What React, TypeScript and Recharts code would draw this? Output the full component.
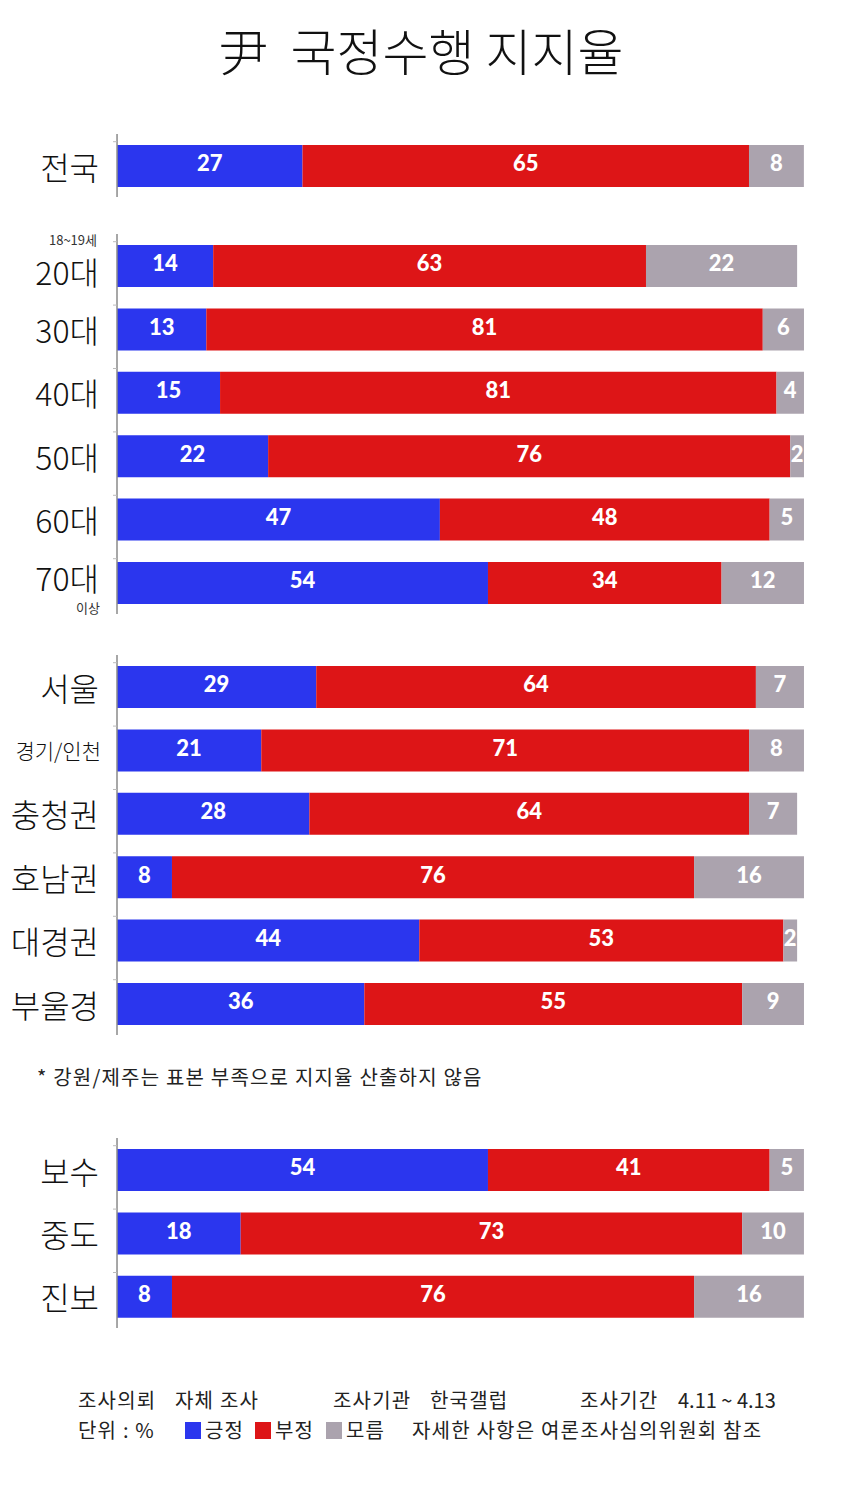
import React from "react";
import { BarChart, Bar, XAxis, YAxis, LabelList } from "recharts";

const BLUE = "#2b36ee";
const RED = "#dd1517";
const GRAY = "#aba3ae";
const KR = "'Noto Sans CJK KR', 'Noto Sans', sans-serif";

const seriesNames = ["긍정", "부정", "모름"];

const nationLabels = ["전국"];
const nationPos = [27];
const nationNeg = [65];
const nationDk = [8];

const ageLabels = ["20대", "30대", "40대", "50대", "60대", "70대"];
const agePos = [14, 13, 15, 22, 47, 54];
const ageNeg = [63, 81, 81, 76, 48, 34];
const ageDk = [22, 6, 4, 2, 5, 12];

const regionLabels = ["서울", "경기/인천", "충청권", "호남권", "대경권", "부울경"];
const regionPos = [29, 21, 28, 8, 44, 36];
const regionNeg = [64, 71, 64, 76, 53, 55];
const regionDk = [7, 8, 7, 16, 2, 9];

const ideoLabels = ["보수", "중도", "진보"];
const ideoPos = [54, 18, 8];
const ideoNeg = [41, 73, 76];
const ideoDk = [5, 10, 16];

const shiftY: Record<string, number> = { "20대": 5, "70대": -6 };
const smallLabels = ["경기/인천"];

const ROW = 63.4;
const AGE_TOP = 233.5;

const build = (labels: string[], pos: number[], neg: number[], dk: number[]) =>
  labels.map((name, i) => ({ name, pos: pos[i], neg: neg[i], dk: dk[i] }));

function CatTick(props: any) {
  const { y, payload } = props;
  const name = payload.value as string;
  const small = smallLabels.includes(name);
  return (
    <g>
      <line x1={113} x2={117} y1={y - 24} y2={y - 24} stroke="#bbb" strokeWidth={1} />
      <text
        x={small ? 101 : 99}
        y={y + (shiftY[name] || 0)}
        textAnchor="end"
        dominantBaseline="central"
        fontFamily={KR}
        fontWeight={300}
        fontSize={small ? 21 : 32}
        fill="#111"
      >
        {name}
      </text>
    </g>
  );
}

function ValueLabel(props: any) {
  const { x, y, width, height, value } = props;
  return (
    <text
      x={x + width / 2}
      y={y + height / 2 - 3}
      textAnchor="middle"
      dominantBaseline="central"
      fill="#fff"
      fontFamily="Lato, 'Open Sans', sans-serif"
      fontWeight={900}
      fontSize={22}
    >
      {value}
    </text>
  );
}

function Group({ data, top }: { data: any[]; top: number }) {
  return (
    <div style={{ position: "absolute", left: 0, top, width: 850 }}>
      <BarChart
        layout="vertical"
        width={850}
        height={data.length * ROW}
        data={data}
        margin={{ top: 0, right: 46, bottom: 0, left: 0 }}
        style={{ overflow: "visible" }}
      >
        <XAxis type="number" domain={[0, 100]} allowDataOverflow hide />
        <YAxis
          type="category"
          dataKey="name"
          width={117}
          axisLine={{ stroke: "#8a8a8a", strokeWidth: 1.5 }}
          tickLine={false}
          tick={<CatTick />}
          interval={0}
        />
        <Bar dataKey="pos" stackId="a" fill={BLUE} barSize={42} isAnimationActive={false}>
          <LabelList dataKey="pos" content={<ValueLabel />} />
        </Bar>
        <Bar dataKey="neg" stackId="a" fill={RED} barSize={42} isAnimationActive={false}>
          <LabelList dataKey="neg" content={<ValueLabel />} />
        </Bar>
        <Bar dataKey="dk" stackId="a" fill={GRAY} barSize={42} isAnimationActive={false}>
          <LabelList dataKey="dk" content={<ValueLabel />} />
        </Bar>
      </BarChart>
    </div>
  );
}

const txt: React.CSSProperties = {
  position: "absolute",
  fontFamily: KR,
  fontSize: 20,
  letterSpacing: 1.2,
  color: "#222",
  whiteSpace: "pre",
  lineHeight: 1,
};

const sub: React.CSSProperties = {
  position: "absolute",
  fontFamily: KR,
  fontSize: 13,
  color: "#333",
  lineHeight: 1,
  whiteSpace: "pre",
  textAlign: "right",
};

export default function App() {
  const colors = [BLUE, RED, GRAY];
  const legendX = [185, 255, 326];
  return (
    <div style={{ position: "absolute", left: 0, top: 0, width: 850, height: 1503, background: "#fff" }}>
      <div
        style={{
          ...txt,
          top: 24,
          left: 0,
          width: 842,
          textAlign: "center",
          fontSize: 50,
          letterSpacing: 0,
          fontWeight: 300,
          color: "#111",
        }}
      >
        {"尹  국정수행 지지율"}
      </div>
      <Group data={build(nationLabels, nationPos, nationNeg, nationDk)} top={133.5} />
      <Group data={build(ageLabels, agePos, ageNeg, ageDk)} top={AGE_TOP} />
      <Group data={build(regionLabels, regionPos, regionNeg, regionDk)} top={654.5} />
      <Group data={build(ideoLabels, ideoPos, ideoNeg, ideoDk)} top={1137.5} />

      <div style={{ ...sub, top: AGE_TOP - 1, left: 0, width: 97 }}>18~19세</div>
      <div style={{ ...sub, top: AGE_TOP + ageLabels.length * ROW - 13, left: 0, width: 100 }}>이상</div>

      <div style={{ ...txt, top: 1067, left: 37 }}>* 강원/제주는 표본 부족으로 지지율 산출하지 않음</div>

      <div style={{ ...txt, top: 1390, left: 78 }}>조사의뢰</div>
      <div style={{ ...txt, top: 1390, left: 175 }}>자체 조사</div>
      <div style={{ ...txt, top: 1390, left: 333 }}>조사기관</div>
      <div style={{ ...txt, top: 1390, left: 430 }}>한국갤럽</div>
      <div style={{ ...txt, top: 1390, left: 580 }}>조사기간</div>
      <div style={{ ...txt, top: 1390, left: 678, letterSpacing: 0 }}>4.11 ~ 4.13</div>

      <div style={{ ...txt, top: 1420, left: 78 }}>단위 : %</div>
      {seriesNames.map((s, i) => (
        <React.Fragment key={s}>
          <div style={{ position: "absolute", top: 1422, left: legendX[i], width: 16, height: 17, background: colors[i] }} />
          <div style={{ ...txt, top: 1420, left: legendX[i] + 20 }}>{s}</div>
        </React.Fragment>
      ))}
      <div style={{ ...txt, top: 1420, left: 412 }}>자세한 사항은 여론조사심의위원회 참조</div>
    </div>
  );
}
